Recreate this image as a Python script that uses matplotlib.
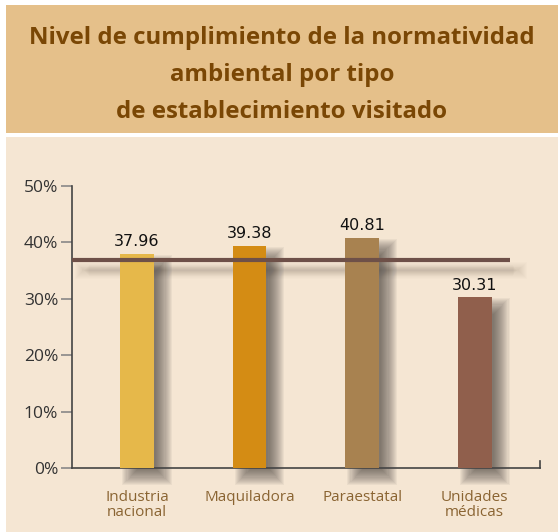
import matplotlib
matplotlib.use("Agg")
import matplotlib.pyplot as plt
from matplotlib.patches import Rectangle
import numpy as np

categories = ["Industria\nnacional", "Maquiladora", "Paraestatal", "Unidades\nmédicas"]
values = [37.96, 39.38, 40.81, 30.31]
value_labels = ["37.96", "39.38", "40.81", "30.31"]
average = 36.9
yticks = [0, 10, 20, 30, 40, 50]
ytick_labels = ["0%", "10%", "20%", "30%", "40%", "50%"]
bar_colors = ["#e6b84a", "#d48c14", "#a88250", "#905f4c"]
title = "Nivel de cumplimiento de la normatividad\nambiental por tipo\nde establecimiento visitado"

W, H = 558, 532
fig = plt.figure(figsize=(W / 100, H / 100), dpi=100)
fig.patch.set_facecolor("white")

# background panels
fig.patches.append(Rectangle((6 / W, 1 - 133 / H), 1, 128 / H, transform=fig.transFigure,
                             facecolor="#e5c08a", edgecolor="none", zorder=-5))
fig.patches.append(Rectangle((6 / W, 0), 1, 1 - 137 / H, transform=fig.transFigure,
                             facecolor="#f5e6d3", edgecolor="none", zorder=-5))

fig.text(0.5 + 3 / W, 1 - 75 / H, title, ha="center", va="center", fontsize=17.3,
         fontweight="bold", color="#7a4705", family=["Open Sans", "DejaVu Sans"],
         linespacing=1.72)

ax = fig.add_axes([72 / W, 64 / H, 468 / W, 282 / H])
ax.set_facecolor("none")
x = np.arange(len(values))
bw = 0.30
xmin, xmax = -0.578, 3.58
ax.set_xlim(xmin, xmax)
ax.set_ylim(0, 50)

# pixel -> data scale
px_x = (xmax - xmin) / 468.0
px_y = 50 / 282.0


def soft_shadow(x0, y0, w, h, blur_px=8, total_alpha=0.6, n=16, color="#3c3632"):
    a = 1 - (1 - total_alpha) ** (1 / n)
    bx, by = blur_px * px_x, blur_px * px_y
    for k in range(n):
        e = 1 - 2 * k / (n - 1)
        ax.add_patch(Rectangle((x0 - bx * e, y0 - by * e), w + 2 * bx * e, h + 2 * by * e,
                               facecolor=color, edgecolor="none", alpha=a, zorder=1,
                               clip_on=False, linewidth=0))


for xi, v in zip(x, values):
    soft_shadow(xi - bw / 2 + 10 * px_x, -9 * px_y, bw, v, blur_px=8, total_alpha=0.6)

# shadow of average line
soft_shadow(xmin + 10 * px_x, average - 12 * px_y, (3.31 - xmin), 3 * px_y,
            blur_px=7, total_alpha=0.22)

ax.bar(x, values, width=bw, color=bar_colors, zorder=3)
for xi, v, lab in zip(x, values, value_labels):
    ax.text(xi, v + 0.8, lab, ha="center", va="bottom", fontsize=11.5, color="#111111",
            family=["DejaVu Sans"], zorder=5)

ax.plot([xmin, 3.31], [average, average], color="#6e5048", lw=3, zorder=4,
        solid_capstyle="butt")

for s in ["top", "right"]:
    ax.spines[s].set_visible(False)
for s in ["left", "bottom"]:
    ax.spines[s].set_color("#444444")
    ax.spines[s].set_linewidth(1.2)
ax.plot([1, 1], [0, 7 / 282], transform=ax.transAxes, color="#444444", lw=1.2, clip_on=False)

ax.set_yticks(yticks)
ax.set_yticklabels(ytick_labels, fontsize=12.5, color="#333333", family=["Open Sans", "DejaVu Sans"])
ax.tick_params(axis="y", length=8, width=1.2, color="#888888", pad=2)
ax.set_xticks(x)
ax.set_xticklabels(categories, fontsize=11, color="#8a6432", family=["Open Sans", "DejaVu Sans"],
                   linespacing=0.95)
ax.tick_params(axis="x", length=0, pad=16)

fig.savefig("out.png", dpi=100, facecolor=fig.get_facecolor())
